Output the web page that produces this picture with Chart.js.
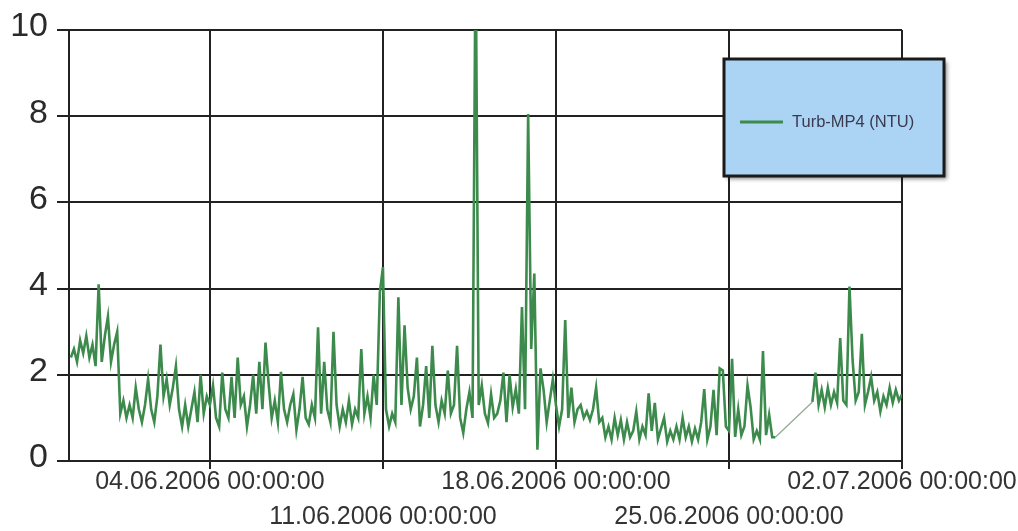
<!DOCTYPE html>
<html>
<head>
<meta charset="utf-8">
<script src="https://cdn.jsdelivr.net/npm/chart.js@4/dist/chart.umd.min.js"></script>
<style>
  html, body { margin: 0; padding: 0; background: #fff; }
  #wrap { width: 1018px; height: 531px; }
</style>
</head>
<body>
<div id="wrap"><canvas id="c" width="1018" height="531"></canvas></div>
<script>
// ---- tick labels (x axis, days relative to 04.06.2006 00:00) ----
const tickDays = [0, 7, 14, 21, 28];
const tickLabels = ['04.06.2006 00:00:00', '11.06.2006 00:00:00', '18.06.2006 00:00:00', '25.06.2006 00:00:00', '02.07.2006 00:00:00'];
const yTicks = [0, 2, 4, 6, 8, 10];
const seriesName = 'Turb-MP4 (NTU)';

// ---- readings (NTU), one every 3 hours; each segment has its start day ----
const stepDays = 0.125;
const wk0Start = -5.625;   // 29.05.2006 09:00
const wk0 = [2.4, 2.6, 2.3, 2.8, 2.5, 2.9, 2.4, 2.7, 2.2, 4.1, 2.3, 2.9, 3.35, 2.3, 2.7, 3.0,
  1.1, 1.4, 1.0, 1.3, 1.0, 1.7, 1.2, 0.9, 1.3, 1.9, 1.2, 0.9, 1.5, 2.7, 1.5, 1.9, 1.3, 1.7,
  2.2, 1.2, 0.8, 1.3, 0.8, 1.2, 1.6, 0.9, 2.0, 1.1, 1.5];
const wk1Start = 0;        // 04.06.2006
const wk1 = [1.3, 1.75, 1.0, 0.8, 2.05, 1.2, 1.0, 1.95, 1.0, 2.4, 1.3, 1.5, 0.8, 1.3, 2.0, 1.1,
  2.3, 1.2, 2.75, 1.8, 1.0, 1.4, 0.9, 2.07, 1.2, 0.9, 1.3, 1.55, 0.72, 1.2, 1.95, 1.0, 0.85,
  1.3, 1.0, 3.1, 1.1, 2.3, 1.2, 0.9, 3.0, 1.3, 0.8, 1.2, 0.9, 1.4, 0.85, 1.2, 1.0, 2.6, 1.1,
  1.5, 1.0, 2.0, 1.3, 3.9];
const wk2Start = 7;        // 11.06.2006
const wk2 = [4.5, 1.2, 0.8, 1.1, 0.9, 3.8, 1.3, 3.15, 1.7, 1.2, 1.5, 2.4, 0.8, 1.3, 2.2, 1.0,
  2.67, 1.3, 0.9, 1.4, 1.1, 2.1, 1.1, 1.3, 2.67, 1.0, 0.65, 1.2, 1.6, 1.0, 12.0, 1.3, 1.75,
  1.1, 0.88, 1.55, 1.0, 1.1, 1.4, 2.05, 0.9, 2.0, 1.25, 1.67, 1.1, 3.57, 1.2, 8.05, 2.6, 4.35,
  0.26, 2.15, 1.65, 0.9, 1.4, 1.9];
const wk3Start = 14;       // 18.06.2006
const wk3 = [1.3, 0.8, 1.2, 3.27, 1.0, 1.7, 0.9, 1.2, 1.3, 1.0, 1.15, 0.95, 1.2, 1.7, 0.9, 1.0,
  0.55, 0.8, 0.5, 1.0, 0.6, 0.95, 0.5, 0.9, 0.55, 0.7, 1.15, 0.5, 0.8, 0.6, 1.57, 0.7, 1.35,
  0.5, 0.75, 1.0, 0.45, 0.7, 0.5, 0.8, 0.5, 1.0, 0.55, 0.8, 0.45, 0.75, 0.5, 0.9, 1.67, 0.5,
  0.8, 1.65, 0.6, 2.15, 2.1, 0.8];
const wk4aStart = 21;      // 25.06.2006
const wk4a = [0.7, 2.37, 0.56, 1.2, 0.6, 0.8, 1.75, 1.25, 0.5, 0.7, 0.5, 2.55, 0.6, 1.07, 0.55, 0.55];
const wk4bStart = 24.375;  // 28.06.2006 09:00 (after data gap)
const wk4b = [1.37, 2.05, 1.3, 1.65, 1.25, 1.7, 1.3, 1.6, 1.35, 2.85, 1.4, 1.3, 4.05, 2.35, 1.4,
  1.6, 2.95, 1.3, 1.6, 1.95, 1.4, 1.6, 1.15, 1.5, 1.3, 1.7, 1.35, 1.65, 1.4, 1.55];

const segments = [[wk0Start, wk0], [wk1Start, wk1], [wk2Start, wk2], [wk3Start, wk3], [wk4aStart, wk4a], [wk4bStart, wk4b]];
const points = [];
segments.forEach(([start, vals]) => vals.forEach((v, i) => points.push({ x: start + i * stepDays, y: v })));

const GRID = '#222222';
const LINE = '#3d8b4c';

const boxLegend = {
  id: 'boxLegend',
  afterDraw(chart) {
    const ctx = chart.ctx;
    const ca = chart.chartArea;
    const ds = chart.data.datasets[0];
    const x = ca.right - 178, y = 59, w = 220, h = 117;
    ctx.save();
    ctx.shadowColor = 'rgba(0,0,0,0.45)';
    ctx.shadowBlur = 4;
    ctx.shadowOffsetX = 3;
    ctx.shadowOffsetY = 3;
    ctx.fillStyle = '#abd3f3';
    ctx.fillRect(x, y, w, h);
    ctx.restore();
    ctx.save();
    ctx.lineWidth = 3;
    ctx.strokeStyle = '#1a1a1a';
    ctx.strokeRect(x, y, w, h);
    ctx.strokeStyle = LINE;
    ctx.lineWidth = 3;
    ctx.beginPath();
    ctx.moveTo(x + 16, y + 63);
    ctx.lineTo(x + 59, y + 63);
    ctx.stroke();
    ctx.fillStyle = '#3a3a50';
    ctx.font = '16.5px "Liberation Sans", Arial, sans-serif';
    ctx.textBaseline = 'middle';
    ctx.textAlign = 'left';
    ctx.fillText(ds.label, x + 68, y + 63);
    ctx.restore();
  }
};

new Chart(document.getElementById('c'), {
  type: 'line',
  data: {
    datasets: [{
      label: seriesName,
      data: points,
      borderColor: LINE,
      borderWidth: 2.6,
      pointRadius: 0,
      tension: 0,
      fill: false,
      segment: {
        borderColor: c => (c.p1.parsed.x - c.p0.parsed.x > 1 ? '#8fa894' : undefined),
        borderWidth: c => (c.p1.parsed.x - c.p0.parsed.x > 1 ? 1.2 : undefined)
      }
    }]
  },
  options: {
    responsive: false,
    devicePixelRatio: 1,
    animation: false,
    layout: { padding: { top: 30, right: 116, bottom: 0, left: 0 } },
    plugins: { legend: { display: false }, tooltip: { enabled: false } },
    scales: {
      x: {
        type: 'linear',
        min: -5.7,
        max: 28,
        afterBuildTicks: s => { s.ticks = tickDays.map(v => ({ value: v })); },
        afterFit: s => { s.height = 70; },
        grid: { color: GRID, lineWidth: 2, tickLength: 8, drawTicks: true },
        border: { display: true, color: GRID, width: 2 },
        ticks: {
          autoSkip: false,
          maxRotation: 0,
          minRotation: 0,
          padding: -4,
          color: '#333333',
          font: { family: '"Liberation Sans", Arial, sans-serif', size: 25, lineHeight: 1.4 },
          callback: (value) => {
            const k = tickDays.indexOf(value);
            if (k < 0) return '';
            return k % 2 ? ['', tickLabels[k]] : tickLabels[k];
          }
        }
      },
      y: {
        min: 0,
        max: 10,
        afterBuildTicks: s => { s.ticks = yTicks.map(v => ({ value: v })); },
        afterFit: s => { s.width = 69; },
        grid: { color: GRID, lineWidth: 2, tickLength: 12, drawTicks: true },
        border: { display: true, color: GRID, width: 2 },
        ticks: {
          padding: 9,
          labelOffset: -3,
          color: '#2a2a2a',
          font: { family: '"Liberation Sans", Arial, sans-serif', size: 34 },
          callback: v => String(v)
        }
      }
    }
  },
  plugins: [boxLegend]
});
</script>
</body>
</html>
